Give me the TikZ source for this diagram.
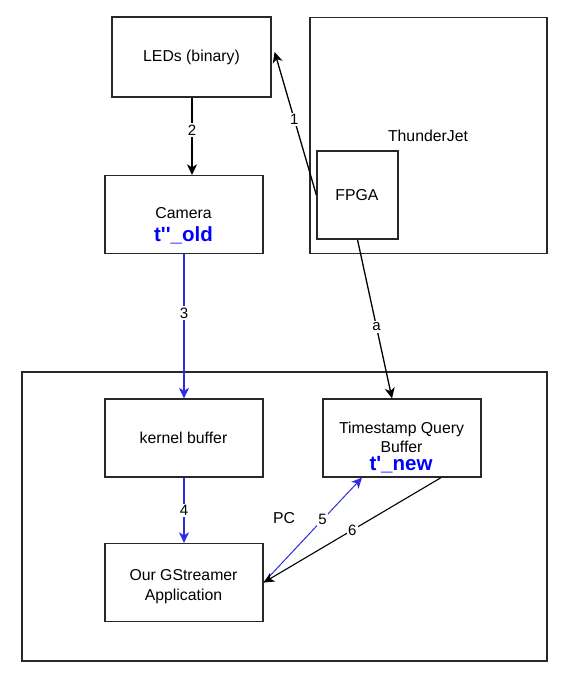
\documentclass[tikz,border=0pt]{standalone}
\usepackage{fontspec}
\newfontfamily\lsans{Liberation Sans}
\usetikzlibrary{arrows.meta}
\definecolor{tblue}{RGB}{0,0,255}
\definecolor{lblue}{RGB}{45,45,225}
\definecolor{boxc}{RGB}{40,40,40}
\begin{document}
\begin{tikzpicture}[x=1pt,y=-1pt,
  box/.style={draw=boxc,line width=1.3pt,inner sep=0pt},
  txt/.style={font=\lsans\fontsize{15.8}{18}\selectfont,anchor=base,inner sep=0pt},
  btxt/.style={font=\lsans\fontsize{20.5}{24}\selectfont\bfseries,text=tblue,anchor=base,inner sep=0pt},
  lbl/.style={font=\lsans\fontsize{15}{17}\selectfont,fill=white,inner sep=1.5pt},
  arr/.style={draw=black,line width=1.3pt,-{Stealth[length=10.5pt,width=10pt,inset=3pt]}},
  barr/.style={arr,draw=lblue},
  tarr/.style={arr,draw=lblue,line width=1pt}]
\useasboundingbox (0,0) rectangle (571,682);
\fill[white] (0,0) rectangle (571,682);
% boxes
\node[box,minimum width=159pt,minimum height=80pt] (leds) at (191.5,57) {};
\node[box,minimum width=237pt,minimum height=236pt] (tj) at (428.5,135.5) {};
\node[box,fill=white,minimum width=81pt,minimum height=88pt] (fpga) at (357.5,195) {};
\node[box,minimum width=158pt,minimum height=78pt] (cam) at (184,214.5) {};
\node[box,minimum width=525pt,minimum height=289pt] (pc) at (284.5,516.5) {};
\node[box,minimum width=158pt,minimum height=78pt] (kb) at (184,438) {};
\node[box,minimum width=158pt,minimum height=78pt] (tqb) at (402,438) {};
\node[box,minimum width=158pt,minimum height=78pt] (gst) at (184,582.5) {};
% texts
\node[txt] (ledtxt) at (191.5,62) {LEDs (binary)};
\node[txt] (tjtxt) at (428,141.5) {ThunderJet};
\node[txt] (fpgatxt) at (357,200) {FPGA};
\node[txt] (camtxt) at (183.5,218) {Camera};
\node[btxt] (told) at (183.5,241.5) {t''\_old};
\node[txt] (kbtxt) at (183.5,443) {kernel buffer};
\node[txt] (tqbtxt1) at (401.5,433.5) {Timestamp Query};
\node[txt] (tqbtxt2) at (401.5,452) {Buffer};
\node[btxt] (tnew) at (401,470.5) {t'\_new};
\node[txt] (gsttxt1) at (183.5,580) {Our GStreamer};
\node[txt] (gsttxt2) at (183.5,600.5) {Application};
\node[txt] (pctxt) at (284,523) {PC};
% connectors
\draw[arr] (fpga.west) -- ([xshift=3pt,yshift=5pt]leds.east) node[lbl,pos=0.53] (l1) {1};
\draw[arr] ([xshift=0.5pt]leds.south) -- ([xshift=0.5pt]leds.south |- cam.north) node[lbl,pos=0.42] (l2) {2};
\draw[barr] (cam.south) -- (kb.north) node[lbl,pos=0.41] (l3) {3};
\draw[arr] (fpga.south) -- ([xshift=-10pt]tqb.north) node[lbl,pos=0.55] (la) {a};
\draw[barr] (kb.south) -- (gst.north) node[lbl,pos=0.5] (l4) {4};
\draw[tarr] (gst.east) -- ([xshift=-40pt]tqb.south) node[lbl,pos=0.6] (l5) {5};
\draw[arr,line width=1.1pt] ([xshift=39pt]tqb.south) -- (gst.east) node[lbl,pos=0.5] (l6) {6};
\end{tikzpicture}
\end{document}
